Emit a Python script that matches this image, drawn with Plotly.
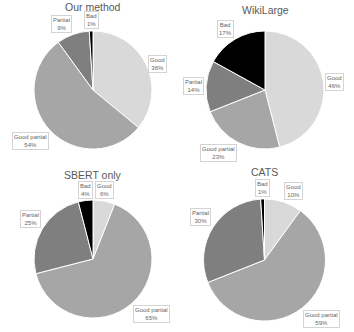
import math
import plotly.graph_objects as go

W, H = 354, 332

categories = ["Good", "Good partial", "Partial", "Bad"]
titles = ["Our method", "WikiLarge", "SBERT only", "CATS"]
our_method = [36, 54, 9, 1]
wikilarge = [46, 23, 14, 17]
sbert_only = [6, 65, 25, 4]
cats = [10, 59, 30, 1]
series = [our_method, wikilarge, sbert_only, cats]

colors = ["#d9d9d9", "#a6a6a6", "#7f7f7f", "#000000"]

# panel layout in pixels: pie centre, radius, title y
panels = [
    dict(cx=93, cy=90, r=59, ty=7),
    dict(cx=265, cy=90, r=59, ty=10),
    dict(cx=93, cy=259, r=59, ty=175),
    dict(cx=264.5, cy=260, r=61, ty=172),
]

fig = go.Figure()
annotations = []
for vals, title, p in zip(series, titles, panels):
    x0 = (p["cx"] - p["r"]) / W
    x1 = (p["cx"] + p["r"]) / W
    y0 = 1 - (p["cy"] + p["r"]) / H
    y1 = 1 - (p["cy"] - p["r"]) / H
    fig.add_trace(go.Pie(
        labels=categories, values=vals, sort=False, direction="clockwise",
        rotation=0, textinfo="none", hoverinfo="label+percent",
        marker=dict(colors=colors, line=dict(color="white", width=1)),
        domain=dict(x=[x0, x1], y=[y0, y1]), showlegend=False,
    ))
    annotations.append(dict(
        x=p["cx"] / W, y=1 - p["ty"] / H, xref="paper", yref="paper",
        text=title, showarrow=False, xanchor="center", yanchor="middle",
        font=dict(family="Liberation Sans", size=10.5, color="#595959"),
    ))
    total = sum(vals)
    cum = 0
    for cat, v in zip(categories, vals):
        mid = (cum + v / 2) / total * 2 * math.pi
        cum += v
        s, c = math.sin(mid), math.cos(mid)
        rr = p["r"] * 1.03
        px = p["cx"] + rr * s
        py = p["cy"] - rr * c
        xa = "left" if s > 0.3 else ("right" if s < -0.3 else "center")
        ya = "bottom" if c > 0.45 else ("top" if c < -0.45 else "middle")
        annotations.append(dict(
            x=px / W, y=1 - py / H, xref="paper", yref="paper",
            text=f"{cat}<br>{round(v / total * 100)}%", showarrow=False,
            xanchor=xa, yanchor=ya, align="center",
            font=dict(family="Liberation Sans", size=6, color="#666666"),
            bgcolor="white", bordercolor="#d4d4d4", borderwidth=1, borderpad=1,
        ))

fig.update_layout(
    width=W, height=H, margin=dict(l=0, r=0, t=0, b=0),
    paper_bgcolor="white", plot_bgcolor="white",
    annotations=annotations,
)
fig.write_html(
    "out.html",
    config={"displayModeBar": False},
    post_script="document.body.style.margin='0';document.body.style.overflow='hidden';",
)
